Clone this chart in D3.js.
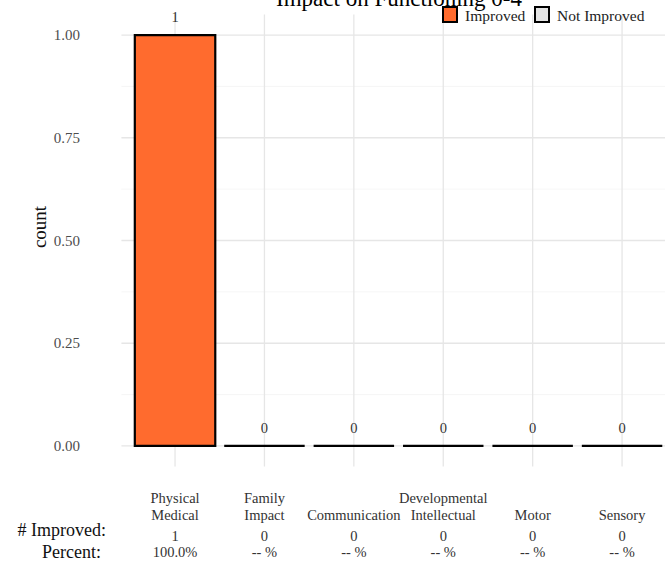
<!DOCTYPE html>
<html><head><meta charset="utf-8">
<script src="https://cdn.jsdelivr.net/npm/d3@7"></script>
<style>
html,body{margin:0;padding:0;background:#fff;}
svg{display:block;font-family:"Liberation Serif","DejaVu Serif",serif;}
</style></head>
<body>
<svg id="chart" width="665" height="564"></svg>
<script>
const categories = [["Physical","Medical"],["Family","Impact"],["Communication"],["Developmental","Intellectual"],["Motor"],["Sensory"]];
const improved = [1,0,0,0,0,0];
const percentLabels = ["100.0%","-- %","-- %","-- %","-- %","-- %"];
const yTicks = [0,0.25,0.5,0.75,1];
const yMinor = [0.125,0.375,0.625,0.875];
const legendItems = ["Improved","Not Improved"];
const legendColors = ["#ff6b2e","#e3e3e3"];
const title = "Impact on Functioning 0-4";

const svg = d3.select("#chart");
const keys = categories.map(c => c.join(" "));
const x = d3.scaleBand().domain(keys).range([121.4, 675.7]).paddingInner(0.1).paddingOuter(0.15);
const y = d3.scaleLinear().domain([-0.05, 1.05]).range([466.5, 14.5]);
const panelTop = y(1.05), panelBot = y(-0.05);

const grid = svg.append("g");
grid.selectAll(".minor").data(yMinor).join("line")
  .attr("x1", 121.4).attr("x2", 665).attr("y1", d => y(d)).attr("y2", d => y(d))
  .attr("stroke", "#f2f2f2").attr("stroke-width", 0.7);
grid.selectAll(".major").data(yTicks).join("line")
  .attr("x1", 121.4).attr("x2", 665).attr("y1", d => y(d)).attr("y2", d => y(d))
  .attr("stroke", "#e6e6e6").attr("stroke-width", 1.3);
grid.selectAll(".vx").data(keys).join("line")
  .attr("x1", d => x(d) + x.bandwidth()/2).attr("x2", d => x(d) + x.bandwidth()/2)
  .attr("y1", panelTop).attr("y2", panelBot)
  .attr("stroke", "#e6e6e6").attr("stroke-width", 1.3);

// y tick labels
svg.append("g").selectAll("text").data(yTicks).join("text")
  .attr("x", 80).attr("y", d => y(d) + 5)
  .attr("text-anchor", "end").attr("font-size", 15).attr("fill", "#4d4d4d")
  .text(d => d3.format(".2f")(d));

// y title
svg.append("text").attr("transform", "translate(46,227) rotate(-90)")
  .attr("text-anchor", "middle").attr("font-size", 19).attr("fill", "#111")
  .text("count");

// bars
svg.append("g").selectAll("path").data(improved).join("path")
  .attr("d", (d, i) => {
    const p = d3.path();
    const x0 = x(keys[i]), w = x.bandwidth();
    p.rect(x0, y(d), w, y(0) - y(d));
    return p.toString();
  })
  .attr("fill", legendColors[0]).attr("stroke", "#000").attr("stroke-width", 2.2)
  .attr("stroke-linejoin", "miter");

// bar labels
svg.append("g").selectAll("text").data(improved).join("text")
  .attr("x", (d, i) => x(keys[i]) + x.bandwidth()/2)
  .attr("y", d => y(d) - 13)
  .attr("text-anchor", "middle").attr("font-size", 14.5).attr("fill", "#333")
  .text(d => d);

// category labels
const lab = svg.append("g").attr("font-size", 14.5).attr("fill", "#333").attr("text-anchor", "middle");
categories.forEach((c, i) => {
  const cx = x(keys[i]) + x.bandwidth()/2;
  const lines = c.length === 2 ? c : [null, c[0]];
  if (lines[0]) lab.append("text").attr("x", cx).attr("y", 503).text(lines[0]);
  lab.append("text").attr("x", cx).attr("y", 520).text(lines[1]);
  lab.append("text").attr("x", cx).attr("y", 541).text(improved[i]);
  lab.append("text").attr("x", cx).attr("y", 557).text(percentLabels[i]);
});

// row labels
svg.append("text").attr("x", 106).attr("y", 536).attr("text-anchor", "end")
  .attr("font-size", 18).attr("fill", "#111").text("# Improved:");
svg.append("text").attr("x", 101).attr("y", 558).attr("text-anchor", "end")
  .attr("font-size", 18).attr("fill", "#111").text("Percent:");

// title
svg.append("text").attr("x", 399).attr("y", 6).attr("text-anchor", "middle")
  .attr("font-size", 23).attr("fill", "#000").text(title);

// legend
const lg = svg.append("g");
const lx = [443, 535];
legendItems.forEach((t, i) => {
  lg.append("rect").attr("x", lx[i]).attr("y", 7).attr("width", 14).attr("height", 15)
    .attr("fill", legendColors[i]).attr("stroke", "#000").attr("stroke-width", 2);
  lg.append("text").attr("x", lx[i] + 22).attr("y", 21).attr("font-size", 15.5).attr("fill", "#222").text(t);
});
</script>
</body></html>
